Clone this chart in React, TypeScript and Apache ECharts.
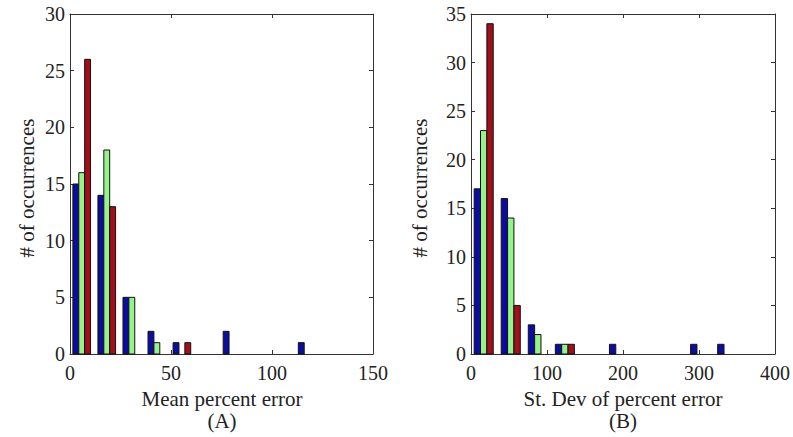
import React, { useEffect, useRef } from "react";
import * as echarts from "echarts";

// ---- Data ----
const meanBinCenters = [5.8, 18.2, 30.6, 43.0, 55.4, 67.8, 80.2, 92.6, 105.0, 117.4];
const meanBlue = [15, 14, 5, 2, 1, 0, 2, 0, 0, 1];
const meanGreen = [16, 18, 5, 1, 0, 0, 0, 0, 0, 0];
const meanRed = [26, 13, 0, 0, 1, 0, 0, 0, 0, 0];

const stdBinCenters = [16.7, 52.3, 87.9, 123.5, 159.1, 194.7, 230.3, 265.9, 301.5, 337.1];
const stdBlue = [17, 16, 3, 1, 0, 1, 0, 0, 1, 1];
const stdGreen = [23, 14, 2, 1, 0, 0, 0, 0, 0, 0];
const stdRed = [34, 5, 0, 1, 0, 0, 0, 0, 0, 0];

const meanXTicks = [0, 50, 100, 150];
const stdXTicks = [0, 100, 200, 300, 400];
const meanYMax = 30;
const stdYMax = 35;

const COLORS = ["#0c0ca0", "#96f28a", "#a0101a"];
const FONT = "Liberation Serif";

export default function App() {
  const ref = useRef<HTMLDivElement>(null);

  useEffect(() => {
    if (!ref.current) return;
    const chart = echarts.init(ref.current, undefined, { renderer: "svg" });

    const grids = [
      { left: 70, top: 14, width: 303, height: 340 },
      { left: 471, top: 14, width: 304, height: 340 },
    ];

    const axisCommon = {
      axisLine: { show: true, onZero: false, lineStyle: { color: "#333", width: 1 } },
      axisTick: { show: true, inside: true, length: 4, lineStyle: { color: "#333" } },
      splitLine: { show: false },
    };

    const labelStyle = { color: "#222", fontFamily: FONT, fontSize: 20 };

    const xAxes: any[] = [];
    const yAxes: any[] = [];
    const panels = [
      { ticks: meanXTicks, yMax: meanYMax },
      { ticks: stdXTicks, yMax: stdYMax },
    ];
    panels.forEach((p, g) => {
      const xmin = p.ticks[0];
      const xmax = p.ticks[p.ticks.length - 1];
      const xint = p.ticks[1] - p.ticks[0];
      xAxes.push({
        type: "value", gridIndex: g, position: "bottom", min: xmin, max: xmax, interval: xint,
        ...axisCommon,
        axisLabel: { ...labelStyle, margin: 9 },
      });
      xAxes.push({
        type: "value", gridIndex: g, position: "top", min: xmin, max: xmax, interval: xint,
        ...axisCommon,
        axisLabel: { show: false },
      });
      yAxes.push({
        type: "value", gridIndex: g, position: "left", min: 0, max: p.yMax, interval: 5,
        ...axisCommon,
        axisLabel: { ...labelStyle, margin: 5 },
      });
      yAxes.push({
        type: "value", gridIndex: g, position: "right", min: 0, max: p.yMax, interval: 5,
        ...axisCommon,
        axisLabel: { show: false },
      });
    });

    const BAR_FRAC = 0.235;
    const makeSeries = (
      centers: number[], values: number[], k: number, g: number, binW: number
    ) => ({
      type: "custom",
      xAxisIndex: g * 2,
      yAxisIndex: g * 2,
      data: centers.map((c, i) => [c, values[i]]),
      renderItem: (params: any, api: any) => {
        const xc = api.value(0);
        const v = api.value(1);
        if (!v) return null;
        const w = binW * BAR_FRAC;
        const left = xc + (k - 1.5) * w;
        const pTop = api.coord([left, v]);
        const pBot = api.coord([left + w, 0]);
        return {
          type: "rect",
          shape: { x: pTop[0], y: pTop[1], width: pBot[0] - pTop[0], height: pBot[1] - pTop[1] },
          style: { fill: COLORS[k], stroke: "#111", lineWidth: 1 },
        };
      },
    });

    const meanW = meanBinCenters[1] - meanBinCenters[0];
    const stdW = stdBinCenters[1] - stdBinCenters[0];
    const series = [
      makeSeries(meanBinCenters, meanBlue, 0, 0, meanW),
      makeSeries(meanBinCenters, meanGreen, 1, 0, meanW),
      makeSeries(meanBinCenters, meanRed, 2, 0, meanW),
      makeSeries(stdBinCenters, stdBlue, 0, 1, stdW),
      makeSeries(stdBinCenters, stdGreen, 1, 1, stdW),
      makeSeries(stdBinCenters, stdRed, 2, 1, stdW),
    ];

    const titleStyle = { fill: "#222", font: `21px "${FONT}"`, align: "center", verticalAlign: "middle" };
    const graphic = [
      { type: "text", x: 27, y: 188, rotation: Math.PI / 2, style: { ...titleStyle, text: "# of occurrences" } },
      { type: "text", x: 420, y: 188, rotation: Math.PI / 2, style: { ...titleStyle, text: "# of occurrences" } },
      { type: "text", x: 222, y: 399, style: { ...titleStyle, text: "Mean percent error" } },
      { type: "text", x: 222, y: 421, style: { ...titleStyle, text: "(A)" } },
      { type: "text", x: 623, y: 399, style: { ...titleStyle, text: "St. Dev of percent error" } },
      { type: "text", x: 623, y: 421, style: { ...titleStyle, text: "(B)" } },
    ];

    chart.setOption({
      animation: false,
      backgroundColor: "#ffffff",
      grid: grids,
      xAxis: xAxes,
      yAxis: yAxes,
      series,
      graphic,
    });

    return () => chart.dispose();
  }, []);

  return (
    <div
      ref={ref}
      style={{ position: "absolute", left: 0, top: 0, width: 793, height: 437, background: "#fff" }}
    />
  );
}
